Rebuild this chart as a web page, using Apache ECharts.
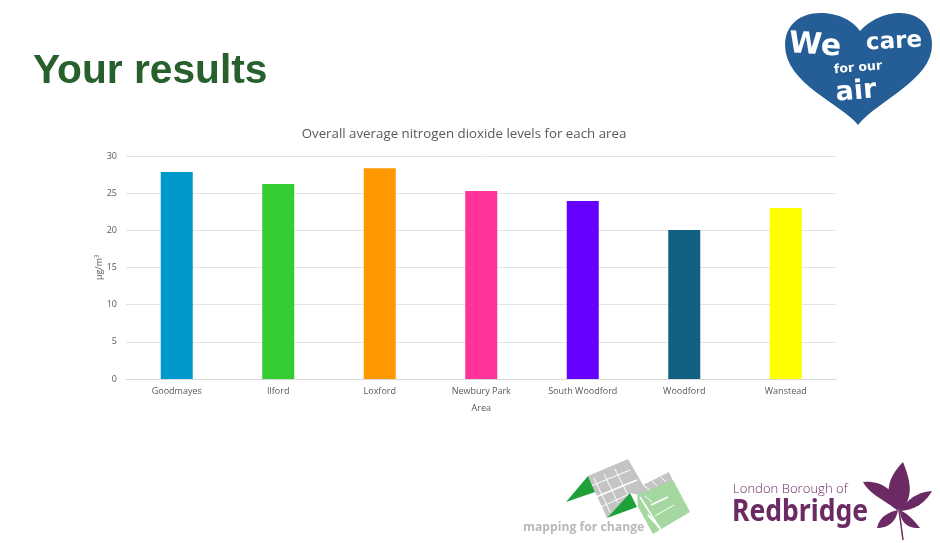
<!DOCTYPE html>
<html><head><meta charset="utf-8">
<style>html,body{margin:0;padding:0;background:#fff}#c{width:940px;height:543px}</style>
<script src="https://cdn.jsdelivr.net/npm/echarts@6/dist/echarts.min.js"></script>
</head><body><div id="c"></div>
<script>
const categories = ['Goodmayes','Ilford','Loxford','Newbury Park','South Woodford','Woodford','Wanstead'];
const values = [27.85,26.25,28.35,25.3,23.95,20.05,23.0];
const barColors = ['#0099CC','#33CC33','#FF9900','#FF3399','#6600FF','#126082','#FFFF00'];
const chartTitle = 'Overall average nitrogen dioxide levels for each area';
const slideTitle = 'Your results';
const yName = 'µg/m³';
const xName = 'Area';

const font = '"Open Sans","Noto Sans",sans-serif';
const txt = (text,x,y,f,fill,rot) => ({type:'text',x,y,rotation:(rot||0)*Math.PI/180,silent:true,
  style:{text,font:f,fill,textAlign:'center',textVerticalAlign:'middle'}});
// logo outlines only: flattens an M/L/C outline to a polygon for the graphic component
function path(d,fill){
  const t = d.match(/[MLCZ]|-?[\d.]+/g); const pts=[]; let i=0,cmd='',cx=0,cy=0;
  while(i<t.length){
    if(/[MLCZ]/.test(t[i])){cmd=t[i++]; if(cmd==='Z')break;}
    if(cmd==='C'){
      const a=t.slice(i,i+6).map(Number); i+=6;
      for(let k=1;k<=16;k++){const u=k/16,v=1-u;
        pts.push([v*v*v*cx+3*v*v*u*a[0]+3*v*u*u*a[2]+u*u*u*a[4], v*v*v*cy+3*v*v*u*a[1]+3*v*u*u*a[3]+u*u*u*a[5]]);}
      cx=a[4];cy=a[5];
    } else { cx=+t[i++];cy=+t[i++];pts.push([cx,cy]); }
  }
  return {type:'polygon',silent:true,shape:{points:pts},style:{fill}};
}
const street = (x1,y1,x2,y2,w) => ({type:'line',silent:true,shape:{x1,y1,x2,y2},style:{stroke:'#fff',lineWidth:w||1}});
const purple = '#6B2A63';
const logo = [
  path('M858 125 C842 104 785 84 785 45 C785 25 800 13 820 13 C838 13 852 20 860 31 C870 20 885 13 900 13 C920 13 932 27 932 45 C932 80 878 100 858 125 Z','#255E96'),
  txt('We',815,46,'900 30px "DejaVu Sans"','#fff',-4),
  txt('care',894,42,'800 23px "DejaVu Sans"','#fff',3),
  txt('for our',858,68,'800 12.5px "DejaVu Sans"','#fff',5),
  txt('air',856,92,'800 27px "DejaVu Sans"','#fff',5),
  // mapping for change
  path('M588 476 L628 459 L643 485 L669 472 L673 481 L640 495 L630 493 L607 518 Z','#C4C4C4'),
  street(594,478,610,512), street(604,474,618,503), street(615,469,628,495),
  street(591,486,630,470), street(596,497,637,480,1.5), street(601,507,627,495),
  street(643,485,650,490), street(652,481,657,486), street(661,477,666,482),
  path('M588 476 L595 492 L566 502 Z','#1FA038'),
  path('M630 493 L637 507 L607 518 Z','#1FA038'),
  path('M673 480 L690 512 L653 534 L638 507 L637 495 Z','#A4D8A0'),
  street(640,497,662,532,1.5), street(645,496,652,502), street(651,505,668,497,1.5), street(655,516,674,505), street(648,515,660,528,2),
  {type:'text',silent:true,x:523,y:528,style:{text:'mapping for change',font:'700 12.2px "Open Sans"',fill:'#B9B9B9',textVerticalAlign:'middle'}},
  // Redbridge
  {type:'text',silent:true,x:733,y:489,style:{text:'London Borough of',font:'300 13.1px "Open Sans"',fill:purple,textVerticalAlign:'middle'}},
  {type:'text',silent:true,x:732,y:512,scaleX:0.885,style:{text:'Redbridge',font:'700 30px "Noto Sans"',fill:purple,textVerticalAlign:'middle'}},
  path('M900 511 C880 495 890 475 903 462 C910 480 915 497 900 511 Z',purple),
  path('M898 511 C885 500 870 495 863 482 C880 480 898 490 898 511 Z',purple),
  path('M900 511 C910 495 922 492 932 491 C925 503 915 510 900 511 Z',purple),
  path('M898 510 C890 512 880 515 877 528 C888 528 896 522 898 510 Z',purple),
  path('M900 510 C910 515 915 522 920 528 C908 529 900 522 900 510 Z',purple),
  {type:'line',silent:true,shape:{x1:899,y1:510,x2:903,y2:540},style:{stroke:purple,lineWidth:1.5}}
];

const chart = echarts.init(document.getElementById('c'),null,{renderer:'canvas'});
chart.setOption({
  animation:false,
  backgroundColor:'#fff',
  title:[
    {text:chartTitle,left:459,top:123,textAlign:'center',textStyle:{fontFamily:font,fontSize:13.3,fontWeight:400,color:'#595959'}},
    {text:slideTitle,left:28,top:46,textStyle:{fontFamily:'"Liberation Sans",sans-serif',fontSize:40.7,fontWeight:700,color:'#275F2D'}}
  ],
  grid:{left:126,right:103.5,top:156,bottom:164},
  xAxis:{type:'category',data:categories,name:xName,nameLocation:'middle',nameGap:25,
    nameTextStyle:{fontFamily:font,fontSize:9,color:'#595959'},
    axisTick:{show:false},axisLine:{lineStyle:{color:'#D9D9D9'}},
    axisLabel:{fontFamily:font,fontSize:9,color:'#595959',margin:8,interval:0}},
  yAxis:{type:'value',min:0,max:30,interval:5,name:yName,nameLocation:'middle',nameGap:22,nameMoveOverlap:false,
    nameTextStyle:{fontFamily:font,fontSize:9,color:'#595959'},
    axisLine:{show:false},axisTick:{show:false},
    splitLine:{lineStyle:{color:'#E4E4E4',width:1}},
    axisLabel:{fontFamily:font,fontSize:9,color:'#595959',margin:9}},
  series:[{type:'bar',barWidth:32,
    data:values.map((v,i)=>({value:v,itemStyle:{color:barColors[i]}}))}],
  graphic:{elements:logo}
});
</script></body></html>
